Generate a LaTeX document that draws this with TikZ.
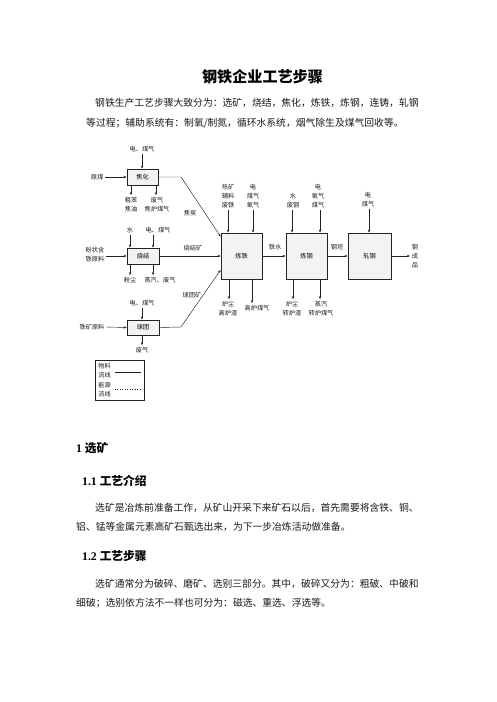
\documentclass[tikz,border=0pt]{standalone}
\usepackage{fontspec}
\setmainfont{Liberation Serif}
\newfontfamily\cjk{Noto Sans CJK SC}
\usetikzlibrary{arrows.meta, positioning, calc}
\definecolor{boxFill}{HTML}{F3F3F3}
\definecolor{lineDark}{HTML}{222222}
\definecolor{textBody}{HTML}{1A1A1A}
\newcommand{\lblfont}{\cjk\fontsize{6.2}{9}\selectfont}
\newcommand{\bodyfont}{\cjk\fontsize{9.8}{19}\selectfont}
\tikzset{
  flow/.style={-{Stealth[length=3pt, width=2.4pt]}, lineDark, line width=0.45pt},
  wire/.style={lineDark, line width=0.45pt},
  proc/.style={rectangle, draw=lineDark, fill=boxFill, line width=0.9pt,
               inner sep=0pt, font=\lblfont},
  procS/.style={proc, minimum width=31pt, minimum height=16pt},
  procL/.style={proc, minimum width=41pt, minimum height=46pt},
  lbl/.style={inner sep=0pt, outer sep=2pt, align=center, font=\lblfont, text=textBody},
  bodyline/.style={anchor=west, inner sep=0pt, font=\bodyfont, text=textBody},
  headA/.style={anchor=west, inner sep=0pt, font=\fontsize{11.7}{14}\selectfont\bfseries},
}

\begin{document}
\begin{tikzpicture}[x=1pt, y=-1pt]
  \fill[white] (0,0) rectangle (496,702);
  \useasboundingbox (0,0) rectangle (496,702);

  % title and intro
  \node[inner sep=0pt, font=\cjk\fontsize{15.1}{18}\selectfont\bfseries] (title) at (262.5,77) {钢铁企业工艺步骤};
  \node[bodyline] (introA) at (95,103) {钢铁生产工艺步骤大致分为：选矿，烧结，焦化，炼铁，炼钢，连铸，轧钢};
  \node[bodyline] (introB) at (86,123) {等过程；辅助系统有：制氧/制氮，循环水系统，烟气除生及煤气回收等。};

  % coking
  \node[procS] (jiaohua) at (142.5,177) {焦化};
  \node[lbl] (jhIn) at (142,149) {电、煤气};
  \node[lbl] (yuanmei) at (97,177) {原煤};
  \node[lbl] (cuben) at (131,204.5) {粗苯\\焦油};
  \node[lbl] (jhGas) at (157,204.5) {废气\\焦炉煤气};
  \node[lbl] (jiaotan) at (190,213) {焦炭};
  \coordinate (jtBend) at (181,177);

  % sintering
  \node[procS, minimum width=32pt] (shaojie) at (143,256) {烧结};
  \node[lbl] (sjWater) at (130,230) {水};
  \node[lbl] (sjIn) at (158,230) {电、煤气};
  \node[lbl] (fenzhuang) at (95,254.5) {粉状含\\铁原料};
  \node[lbl] (sjDust) at (130,280) {粉尘};
  \node[lbl] (sjGas) at (160,280) {蒸汽、废气};
  \node[lbl] (sjk) at (193,248) {烧结矿};

  % pelletizing
  \node[procS, minimum width=32pt, minimum height=15pt] (qiutuan) at (143,327.5) {球团};
  \node[lbl] (qtIn) at (142,303) {电、煤气};
  \node[lbl] (tkyl) at (92,327) {铁矿原料};
  \node[lbl] (qtGas) at (142,350) {废气};
  \node[lbl] (qtk) at (192,295) {球团矿};
  \coordinate (qtBend) at (181,327);

  % iron, steel, rolling
  \node[procL] (liantie) at (241.5,256) {炼铁};
  \node[procL] (liangang) at (306.5,256) {炼钢};
  \node[procL, minimum width=43pt] (zhagang) at (369.5,256) {轧钢};
  \node[lbl] (ltIn1) at (228,196) {热矿\\辅料\\废铁};
  \node[lbl] (ltIn2) at (253,196) {电\\煤气\\氧气};
  \node[lbl] (ltOut1) at (228,308.5) {炉尘\\高炉渣};
  \node[lbl] (ltOut2) at (257,308) {高炉煤气};
  \node[lbl] (lgIn1) at (293,200.5) {水\\废钢};
  \node[lbl] (lgIn2) at (318,196) {电\\氧气\\煤气};
  \node[lbl] (lgOut1) at (292,308.5) {炉尘\\转炉渣};
  \node[lbl] (lgOut2) at (321,308.5) {蒸汽\\转炉煤气};
  \node[lbl] (zgIn) at (368,199.5) {电\\煤气};
  \node[lbl] (product) at (415,256) {钢\\成\\品};
  \node[lbl] (tieshui) at (275,247) {铁水};
  \node[lbl] (gangpi) at (337,247) {钢坯};

  % legend
  \node[draw=lineDark, line width=0.6pt, minimum width=49pt, minimum height=40pt,
        inner sep=0pt] (legend) at (119.5,380) {};
  \node[lbl] (lgdA1) at (104.5,366) {物料};
  \node[lbl] (lgdA2) at (104.5,375) {流线};
  \node[lbl] (lgdB1) at (104.5,385) {能源};
  \node[lbl] (lgdB2) at (104.5,394) {流线};
  \coordinate (solidL) at (115,372);
  \coordinate (solidR) at (141,372);
  \coordinate (dotL) at (115,389);
  \coordinate (dotR) at (141,389);
  \draw[wire] (solidL) -- (solidR);
  \draw[wire, dotted] (dotL) -- (dotR);

  % connectors, left column
  \draw[flow] (jhIn.south) -- (jiaohua.north -| jhIn.south);
  \draw[flow] (yuanmei.east) -- (jiaohua.west);
  \draw[flow] (jiaohua.south -| cuben.north) -- (cuben.north);
  \draw[flow] (jiaohua.south -| 156,0) -- (jhGas.north -| 156,0);
  \draw[flow] (jiaohua.east) -- (jtBend) -- ($(liantie.west)!0.83!(liantie.north west)$);

  \draw[flow] (sjWater.south) -- (shaojie.north -| sjWater.south);
  \draw[flow] (sjIn.south -| 153,0) -- (shaojie.north -| 153,0);
  \draw[flow] (fenzhuang.east |- shaojie.west) -- (shaojie.west);
  \draw[flow] (shaojie.south -| sjDust.north) -- (sjDust.north);
  \draw[flow] (shaojie.south -| 153,0) -- (sjGas.north -| 153,0);
  \draw[flow] (shaojie.east) -- (liantie.west);

  \draw[flow] (qtIn.south) -- (qiutuan.north -| qtIn.south);
  \draw[flow] (tkyl.east) -- (qiutuan.west);
  \draw[flow] (qiutuan.south -| qtGas.north) -- (qtGas.north);
  \draw[flow] (qiutuan.east) -- (qtBend) -- ($(liantie.west)!0.6!(liantie.south west)$);

  % connectors, main line
  \draw[flow] (ltIn1.south) -- (liantie.north -| ltIn1.south);
  \draw[flow] (ltIn2.south) -- (liantie.north -| ltIn2.south);
  \draw[flow] (liantie.south -| 229,0) -- (ltOut1.north -| 229,0);
  \draw[flow] (liantie.south -| 252,0) -- (ltOut2.north -| 252,0);
  \draw[flow] (liantie.east) -- (liangang.west);
  \draw[flow] (lgIn1.south -| 292,0) -- (liangang.north -| 292,0);
  \draw[flow] (lgIn2.south -| 320,0) -- (liangang.north -| 320,0);
  \draw[flow] (liangang.south -| 293,0) -- (lgOut1.north -| 293,0);
  \draw[flow] (liangang.south -| 320,0) -- (lgOut2.north -| 320,0);
  \draw[flow] (liangang.east) -- (zhagang.west);
  \draw[flow] (zgIn.south -| 369,0) -- (zhagang.north -| 369,0);
  \draw[flow] (zhagang.east) -- (product.west);

  % section text
  \node[headA] (secA) at (76,448) {1 {\cjk 选矿}};
  \node[headA] (secAA) at (82,481) {1.1 {\cjk 工艺介绍}};
  \node[bodyline] (paraA1) at (95,508) {选矿是冶炼前准备工作，从矿山开采下来矿石以后，首先需要将含铁、铜、};
  \node[bodyline] (paraA2) at (76,527) {铝、锰等金属元素高矿石甄选出来，为下一步冶炼活动做准备。};
  \node[headA] (secAB) at (82,556) {1.2 {\cjk 工艺步骤}};
  \node[bodyline] (paraB1) at (95,584) {选矿通常分为破碎、磨矿、选别三部分。其中，破碎又分为：粗破、中破和};
  \node[bodyline] (paraB2) at (76,603) {细破；选别依方法不一样也可分为：磁选、重选、浮选等。};
\end{tikzpicture}
\end{document}
